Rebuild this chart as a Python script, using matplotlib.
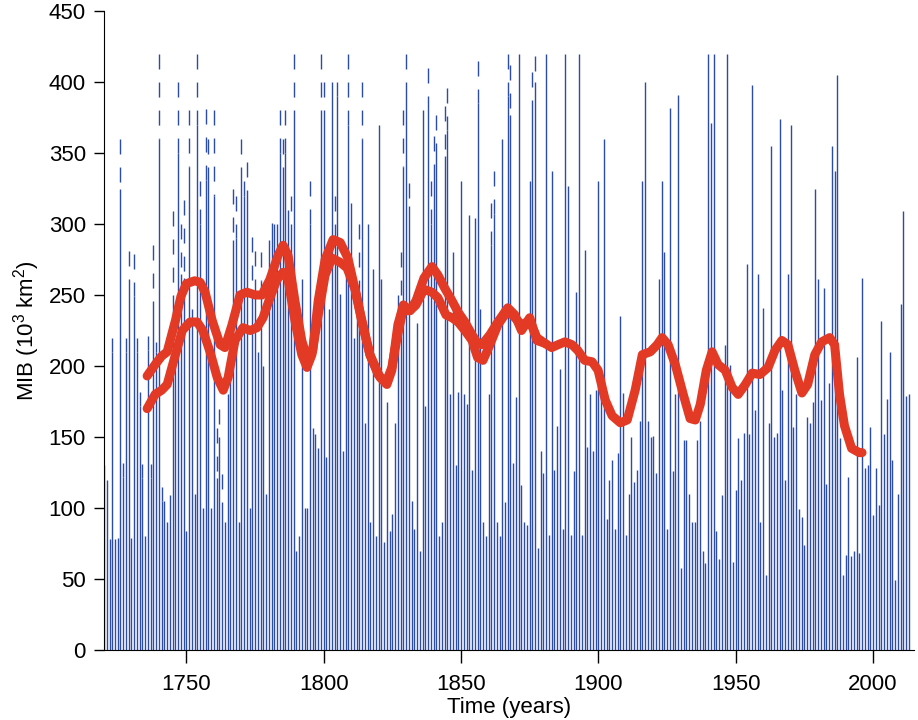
import numpy as np
import matplotlib.pyplot as plt

plt.rcParams['font.family'] = ['Liberation Sans', 'DejaVu Sans']
plt.rcParams['mathtext.default'] = 'regular'
plt.rcParams['lines.scale_dashes'] = False

# yearly MIB values (solid bar top), 1720-2013
years = np.arange(1720, 2014)
mib = [
    125, 120, 78, 210, 78, 79, 325, 122, 210, 261,      # 1720s
    79, 249, 210, 172, 121, 80, 211, 121, 246, 210,     # 1730s
    360, 105, 105, 90, 109, 250, 200, 350, 265, 262,    # 1740s
    84, 340, 240, 110, 370, 300, 100, 331, 340, 100,    # 1750s
    320, 121, 150, 104, 90, 180, 200, 289, 290, 90,     # 1760s
    340, 320, 324, 100, 251, 251, 210, 260, 200, 110,   # 1770s
    289, 301, 300, 300, 350, 340, 350, 310, 300, 380,   # 1780s
    70, 80, 261, 100, 100, 300, 156, 152, 142, 380,     # 1790s
    380, 136, 240, 400, 290, 390, 251, 140, 280, 370,   # 1800s
    315, 220, 240, 251, 360, 160, 300, 90, 268, 80,     # 1810s
    370, 261, 76, 175, 84, 96, 160, 235, 241, 340,      # 1820s
    400, 313, 105, 85, 230, 70, 380, 172, 390, 300,     # 1830s
    342, 357, 80, 90, 348, 366, 180, 280, 130, 182,     # 1840s
    330, 180, 173, 306, 127, 304, 385, 240, 90, 80,     # 1850s
    180, 285, 307, 90, 80, 360, 104, 390, 377, 132,     # 1860s
    178, 420, 116, 90, 88, 330, 387, 400, 72, 140,      # 1870s
    125, 420, 81, 337, 127, 158, 198, 85, 420, 327,     # 1880s
    81, 126, 252, 420, 81, 282, 143, 180, 140, 183,     # 1890s
    330, 180, 360, 92, 120, 134, 85, 139, 235, 181,     # 1900s
    81, 110, 150, 118, 127, 161, 330, 400, 161, 150,    # 1910s
    151, 125, 261, 330, 280, 85, 382, 126, 180, 391,    # 1920s
    58, 148, 148, 110, 90, 90, 148, 161, 70, 61,        # 1930s
    420, 371, 420, 84, 64, 109, 215, 420, 201, 62,      # 1940s
    113, 149, 120, 153, 272, 152, 398, 169, 265, 90,    # 1950s
    241, 53, 160, 355, 150, 153, 374, 183, 120, 265,    # 1960s
    370, 157, 180, 99, 94, 74, 164, 160, 175, 325,      # 1970s
    261, 176, 255, 117, 188, 355, 337, 405, 149, 53,    # 1980s
    67, 122, 66, 70, 206, 68, 262, 128, 130, 157,       # 1990s
    95, 128, 102, 232, 152, 177, 210, 134, 49, 110,     # 2000s
    244, 309, 179, 180,                                 # 2010s
]

# uncertain upper range drawn dashed above the solid bar
dash_years = [1720, 1723, 1726, 1727, 1728, 1729, 1731, 1732, 1733, 1734, 1736,
              1737, 1738, 1739, 1740, 1741, 1745, 1747, 1748, 1749, 1751, 1754,
              1755, 1757, 1758, 1760, 1761, 1762, 1763, 1767, 1768, 1770, 1771,
              1772, 1774, 1775, 1777, 1784, 1785, 1786, 1788, 1789, 1795, 1799,
              1800, 1804, 1805, 1809, 1813, 1814, 1827, 1828, 1829, 1830, 1831,
              1838, 1839, 1840, 1841, 1844, 1845, 1856, 1861, 1862, 1867, 1868,
              1876, 1877]
dash_top = [130, 220, 360, 132, 220, 281, 279, 220, 182, 131, 221,
            131, 285, 217, 420, 115, 309, 400, 300, 317, 380, 420,
            330, 381, 360, 380, 156, 170, 124, 325, 320, 360, 330,
            344, 291, 281, 280, 380, 360, 380, 320, 420, 330, 420,
            400, 320, 400, 420, 300, 400, 250, 280, 380, 420, 329,
            410, 330, 362, 377, 383, 396, 415, 315, 337, 420, 412,
            407, 418]

# smoothed curves
s1_years = [1735.7, 1738.6, 1741, 1743, 1746, 1748, 1750, 1753, 1755, 1756.8,
            1759.4, 1762.3, 1764, 1766.6, 1769.5, 1772, 1775, 1777.5, 1780.4,
            1783.4, 1785.2, 1787, 1789.5, 1792, 1794.3, 1796, 1798, 1800.5,
            1803.4, 1806, 1808.8, 1811.4, 1813.9, 1816.8, 1820.5, 1823, 1824.8,
            1827, 1829, 1831.4, 1833.6, 1836.5, 1839.4, 1841.6, 1844, 1846.7,
            1848.9, 1851.4, 1854, 1856, 1857.6, 1860.5, 1863.4, 1867, 1869.6,
            1872, 1875, 1877.6, 1880.5, 1883, 1885.3, 1887.8, 1890.4, 1892.5,
            1895, 1897.7, 1899.9, 1902.5, 1905, 1908, 1910.5, 1913.4, 1916,
            1918.9, 1921.4, 1923.2, 1925.4, 1928, 1930.9, 1933.4, 1935.3,
            1937.1, 1939.3, 1941.4, 1943.6, 1946.2, 1948.7, 1950.9, 1953.5,
            1956, 1958.8, 1961.8, 1964.3, 1966.8, 1969, 1971.5, 1974.1, 1976.2,
            1978.8, 1981.3, 1984.2, 1986, 1987.8, 1989.6, 1992.2, 1995, 1996]
s1_vals = [193, 201, 207, 210, 232, 249, 258, 260, 259, 252,
           232, 215, 213, 229, 250, 252, 250, 250, 261,
           278, 285, 278, 246, 218, 203, 211, 246, 275,
           289, 287, 276, 254, 231, 208, 192, 187, 197,
           229, 243, 239, 246, 262, 270, 264, 255, 246,
           238, 231, 222, 216, 215, 222, 231, 241, 236,
           225, 234, 218, 216, 213, 215, 217, 215, 211,
           204, 203, 197, 176, 165, 160, 162, 183, 208,
           210, 215, 220, 215, 201, 180, 163, 162,
           173, 197, 210, 201, 197, 185, 180, 187,
           195, 194, 199, 211, 218, 215, 197, 181, 187,
           208, 217, 220, 215, 180, 158, 142, 139, 139]

s2_years = [1735.7, 1738.6, 1741, 1743, 1746, 1748.5, 1751.3, 1753.9, 1756,
            1758.6, 1761.2, 1763.4, 1765.2, 1767.7, 1770.6, 1773.2, 1775.7,
            1777.9, 1780.4, 1783, 1785.2, 1787, 1789.5, 1792, 1793.9, 1795.7,
            1798, 1800.5, 1803, 1806, 1808.5, 1811.4, 1813.9, 1816.8, 1819.8,
            1822.6, 1824.8, 1826.7, 1828.8, 1831.4, 1833.6, 1836.5, 1839.4,
            1841.6, 1844.5, 1846.7, 1848.9, 1851.4, 1854, 1856, 1858, 1860.5,
            1863.4, 1867, 1869.6, 1872, 1875, 1877.6, 1880.5]
s2_vals = [170, 180, 183, 187, 208, 225, 231, 231, 225,
           210, 192, 183, 192, 218, 227, 225, 227,
           234, 248, 261, 266, 261, 232, 208, 199, 208,
           236, 264, 276, 273, 269, 254, 232, 208, 194,
           188, 199, 220, 239, 239, 243, 254, 252,
           248, 236, 234, 231, 225, 218, 206, 204, 215,
           229, 239, 234, 229, 232, 220, 216]

blue = '#2b4ca8'
red = '#e33a26'

fig = plt.figure(figsize=(9.18, 7.2), dpi=100)
ax = fig.add_axes([0.1133, 0.0972, 0.882, 0.8875])

ax.vlines(years, 0, mib, color=blue, lw=1.0)
solid_at = dict(zip(years, mib))
ax.vlines(dash_years, dash_top, [solid_at[y] for y in dash_years],
          color=blue, lw=1.0, linestyles=[(0, (10.8, 9.4))])

ax.plot(s2_years, s2_vals, color=red, lw=6.5, solid_capstyle='round', solid_joinstyle='round')
ax.plot(s1_years, s1_vals, color=red, lw=6.5, solid_capstyle='round', solid_joinstyle='round')

ax.set_xlim(1720, 2014.8)
ax.set_ylim(0, 450)
ax.set_xticks(np.arange(1750, 2001, 50))
ax.set_yticks(np.arange(0, 451, 50))
ax.spines['top'].set_visible(False)
ax.spines['right'].set_visible(False)
ax.tick_params(direction='out', length=7, width=1, labelsize=16, pad=6)
ax.tick_params(axis='x', length=9, pad=8)
ax.set_xlabel('Time (years)', fontsize=16, labelpad=2)
ax.set_ylabel('MIB (10$^3$ km$^2$)', fontsize=16, labelpad=5)

fig.savefig('out.png', dpi=100)
